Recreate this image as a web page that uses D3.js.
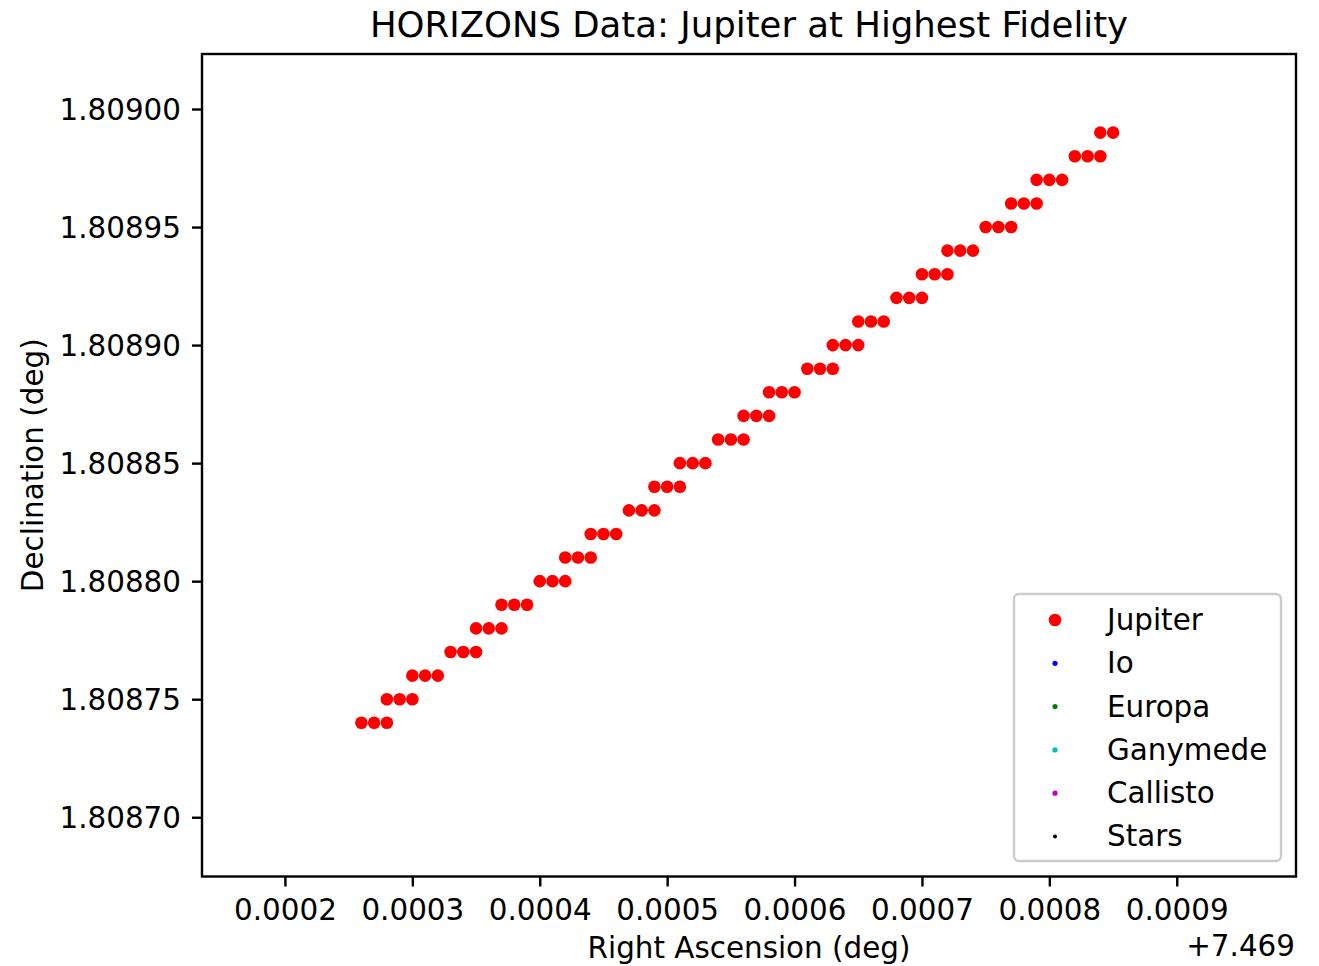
<!DOCTYPE html>
<html>
<head>
<meta charset="utf-8">
<script src="https://cdn.jsdelivr.net/npm/d3@7"></script>
<style>
  html, body { margin: 0; padding: 0; background: #fff; }
  svg { display: block; }
  text { font-family: "DejaVu Sans", sans-serif; fill: #000; }
</style>
</head>
<body>
<svg id="chart" width="1319" height="966"></svg>
<script>
// ---- Data (RA shown as offset from xOffset) ----
const xOffset = 7.469;
const jupiterRA = [
  0.00026, 0.00027, 0.00028,
  0.00028, 0.00029, 0.00030,
  0.00030, 0.00031, 0.00032,
  0.00033, 0.00034, 0.00035,
  0.00035, 0.00036, 0.00037,
  0.00037, 0.00038, 0.00039,
  0.00040, 0.00041, 0.00042,
  0.00042, 0.00043, 0.00044,
  0.00044, 0.00045, 0.00046,
  0.00047, 0.00048, 0.00049,
  0.00049, 0.00050, 0.00051,
  0.00051, 0.00052, 0.00053,
  0.00054, 0.00055, 0.00056,
  0.00056, 0.00057, 0.00058,
  0.00058, 0.00059, 0.00060,
  0.00061, 0.00062, 0.00063,
  0.00063, 0.00064, 0.00065,
  0.00065, 0.00066, 0.00067,
  0.00068, 0.00069, 0.00070,
  0.00070, 0.00071, 0.00072,
  0.00072, 0.00073, 0.00074,
  0.00075, 0.00076, 0.00077,
  0.00077, 0.00078, 0.00079,
  0.00079, 0.00080, 0.00081,
  0.00082, 0.00083, 0.00084,
  0.00084, 0.00085
];
const jupiterDec = [
  1.80874, 1.80874, 1.80874,
  1.80875, 1.80875, 1.80875,
  1.80876, 1.80876, 1.80876,
  1.80877, 1.80877, 1.80877,
  1.80878, 1.80878, 1.80878,
  1.80879, 1.80879, 1.80879,
  1.80880, 1.80880, 1.80880,
  1.80881, 1.80881, 1.80881,
  1.80882, 1.80882, 1.80882,
  1.80883, 1.80883, 1.80883,
  1.80884, 1.80884, 1.80884,
  1.80885, 1.80885, 1.80885,
  1.80886, 1.80886, 1.80886,
  1.80887, 1.80887, 1.80887,
  1.80888, 1.80888, 1.80888,
  1.80889, 1.80889, 1.80889,
  1.80890, 1.80890, 1.80890,
  1.80891, 1.80891, 1.80891,
  1.80892, 1.80892, 1.80892,
  1.80893, 1.80893, 1.80893,
  1.80894, 1.80894, 1.80894,
  1.80895, 1.80895, 1.80895,
  1.80896, 1.80896, 1.80896,
  1.80897, 1.80897, 1.80897,
  1.80898, 1.80898, 1.80898,
  1.80899, 1.80899
];
// Moons and stars: no points fall inside this view
const ioRA = [], ioDec = [];
const europaRA = [], europaDec = [];
const ganymedeRA = [], ganymedeDec = [];
const callistoRA = [], callistoDec = [];
const starsRA = [], starsDec = [];

const seriesNames = ["Jupiter", "Io", "Europa", "Ganymede", "Callisto", "Stars"];
const seriesColors = ["#ff0000", "#0000ff", "#008000", "#00bfbf", "#bf00bf", "#000000"];
const xTicks = [0.0002, 0.0003, 0.0004, 0.0005, 0.0006, 0.0007, 0.0008, 0.0009];
const xTickLabels = ["0.0002", "0.0003", "0.0004", "0.0005", "0.0006", "0.0007", "0.0008", "0.0009"];
const yTicks = [1.80870, 1.80875, 1.80880, 1.80885, 1.80890, 1.80895, 1.80900];
const yTickLabels = ["1.80870", "1.80875", "1.80880", "1.80885", "1.80890", "1.80895", "1.80900"];
const xDomain = [0.0001349, 0.0009936];
const yDomain = [1.8086749, 1.8090233];

// ---- Layout ----
const L = 202, R = 1296, T = 54, B = 876.5;
const svg = d3.select("#chart");
const x = d3.scaleLinear().domain(xDomain).range([L, R]);
const y = d3.scaleLinear().domain(yDomain).range([B, T]);

const series = [
  { ra: jupiterRA, dec: jupiterDec, r: 6.3 },
  { ra: ioRA, dec: ioDec, r: 2.6 },
  { ra: europaRA, dec: europaDec, r: 2.6 },
  { ra: ganymedeRA, dec: ganymedeDec, r: 2.6 },
  { ra: callistoRA, dec: callistoDec, r: 2.6 },
  { ra: starsRA, dec: starsDec, r: 2.0 }
];

svg.append("clipPath").attr("id", "plotclip")
  .append("rect").attr("x", L).attr("y", T).attr("width", R - L).attr("height", B - T);

const plot = svg.append("g").attr("clip-path", "url(#plotclip)");
series.forEach((s, i) => {
  const pts = s.ra.map((v, j) => [v, s.dec[j]]);
  plot.selectAll(null).data(pts).enter().append("circle")
    .attr("cx", d => x(d[0]))
    .attr("cy", d => y(d[1]))
    .attr("r", s.r)
    .attr("fill", seriesColors[i]);
});

// Axes
const fs = 29.4;
const xAxis = d3.axisBottom(x).tickValues(xTicks)
  .tickFormat((d, i) => xTickLabels[i]).tickSizeOuter(0).tickSizeInner(10).tickPadding(13);
const gx = svg.append("g").attr("transform", `translate(0,${B})`).call(xAxis);
gx.select(".domain").remove();
gx.selectAll(".tick line").attr("stroke", "#000").attr("stroke-width", 2.4);
gx.selectAll(".tick text").attr("font-size", fs).attr("font-family", "DejaVu Sans").attr("fill", "#000").attr("dy", "0.71em");

const yAxis = d3.axisLeft(y).tickValues(yTicks)
  .tickFormat((d, i) => yTickLabels[i]).tickSizeOuter(0).tickSizeInner(10).tickPadding(11);
const gy = svg.append("g").attr("transform", `translate(${L},0)`).call(yAxis);
gy.select(".domain").remove();
gy.selectAll(".tick line").attr("stroke", "#000").attr("stroke-width", 2.4);
gy.selectAll(".tick text").attr("font-size", fs).attr("font-family", "DejaVu Sans").attr("fill", "#000").attr("dy", "0.36em");

// Frame
svg.append("rect").attr("x", L).attr("y", T).attr("width", R - L).attr("height", B - T)
  .attr("fill", "none").attr("stroke", "#000").attr("stroke-width", 2.4);

// Title and labels
svg.append("text").attr("x", (L + R) / 2).attr("y", 36.5).attr("text-anchor", "middle")
  .attr("font-size", 35.5).text("HORIZONS Data: Jupiter at Highest Fidelity");
svg.append("text").attr("x", (L + R) / 2).attr("y", 958).attr("text-anchor", "middle")
  .attr("font-size", fs).text("Right Ascension (deg)");
svg.append("text").attr("transform", `translate(43,${(T + B) / 2}) rotate(-90)`)
  .attr("text-anchor", "middle").attr("font-size", fs).text("Declination (deg)");
svg.append("text").attr("x", R - 1).attr("y", 955.5).attr("text-anchor", "end")
  .attr("font-size", fs).text("+" + xOffset.toFixed(3));

// Legend
const lg = svg.append("g");
lg.append("rect").attr("x", 1014).attr("y", 594).attr("width", 267).attr("height", 267)
  .attr("rx", 5).attr("ry", 5).attr("fill", "#fff").attr("fill-opacity", 0.8)
  .attr("stroke", "#cccccc").attr("stroke-width", 2.4);
seriesNames.forEach((name, i) => {
  const cy = 620 + i * 43.3;
  lg.append("circle").attr("cx", 1055).attr("cy", cy).attr("r", series[i].r).attr("fill", seriesColors[i]);
  lg.append("text").attr("x", 1107).attr("y", cy).attr("dy", "0.34em")
    .attr("font-size", fs).text(name);
});
</script>
</body>
</html>
